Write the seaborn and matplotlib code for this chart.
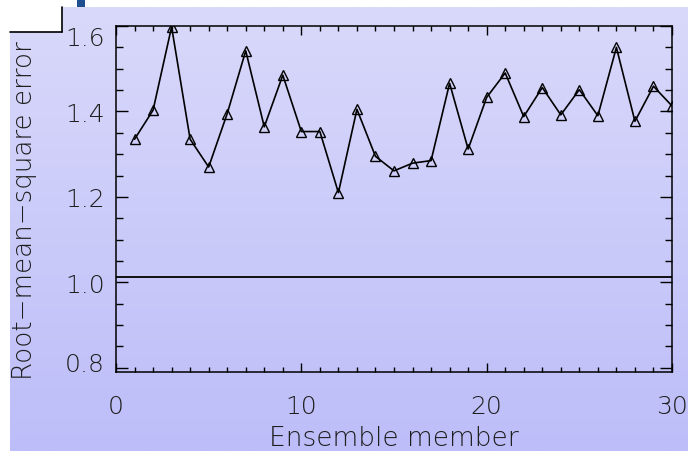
import numpy as np
import pandas as pd
import matplotlib
matplotlib.use("Agg")
import matplotlib.pyplot as plt
import matplotlib.transforms as mtransforms
from matplotlib.patches import Rectangle
from matplotlib.lines import Line2D
from matplotlib.ticker import MultipleLocator
import seaborn as sns

# ---- data ----
members = list(range(1, 31))
rmse = [1.335, 1.403, 1.598, 1.335, 1.270, 1.395, 1.542, 1.364, 1.485, 1.353,
        1.353, 1.210, 1.405, 1.295, 1.261, 1.279, 1.285, 1.466, 1.312, 1.433,
        1.490, 1.388, 1.456, 1.392, 1.451, 1.390, 1.550, 1.377, 1.459, 1.413]
reference_level = 1.012
x_ticks = [0, 10, 20, 30]
y_ticks = [0.8, 1.0, 1.2, 1.4, 1.6]
x_label = "Ensemble member"
y_label = "Root\u2212mean\u2212square error"

df = pd.DataFrame({"member": members, "rmse": rmse})

sns.set_theme(style="ticks")
plt.rcParams["font.family"] = ["DejaVu Sans"]
plt.rcParams["font.weight"] = "light"

W, H = 688, 452
fig = plt.figure(figsize=(W / 100, H / 100), dpi=100)
fig.patch.set_facecolor("white")

# gradient background (lavender), leaving white strip at top and left
bg = fig.add_axes([10 / W, 0, 1 - 10 / W, 1 - 8 / H], zorder=0)
grad = np.linspace(0, 1, 256).reshape(-1, 1)
top_c = np.array([217, 217, 251]) / 255
bot_c = np.array([189, 189, 249]) / 255
img = top_c[None, None, :] * (1 - grad[:, :, None]) + bot_c[None, None, :] * grad[:, :, None]
bg.imshow(img, aspect="auto", extent=[0, 1, 0, 1], origin="upper")
bg.set_axis_off()

# white box in the top-left corner with black edges
fig.patches.append(Rectangle((10 / W, 1 - 33 / H), 52 / W, 25 / H, transform=fig.transFigure,
                             facecolor="white", edgecolor="none", zorder=1))
fig.lines.append(Line2D([10 / W, 62 / W], [1 - 33 / H, 1 - 33 / H], transform=fig.transFigure,
                        color="black", lw=1.2, zorder=2))
fig.lines.append(Line2D([62 / W, 62 / W], [1 - 8 / H, 1 - 33 / H], transform=fig.transFigure,
                        color="black", lw=1.2, zorder=2))
# small blue block in the top strip
fig.patches.append(Rectangle((77 / W, 1 - 7.5 / H), 8 / W, 7.5 / H, transform=fig.transFigure,
                             facecolor="#1f4f8f", edgecolor="none", zorder=1))

# main axes
left, right, top, bottom = 116, 672, 27, 372.7
ax = fig.add_axes([left / W, 1 - bottom / H, (right - left) / W, (bottom - top) / H], zorder=3)
ax.patch.set_alpha(0)

sns.lineplot(data=df, x="member", y="rmse", ax=ax, color="black", lw=1.2,
             marker="^", markersize=7.5, markerfacecolor="none",
             markeredgecolor="black", markeredgewidth=1.0)
ax.axhline(reference_level, color="black", lw=1.3)

ax.set_xlim(0, 30)
ax.set_ylim(0.791, 1.6)
ax.set_xticks(x_ticks)
ax.set_yticks(y_ticks)
ax.xaxis.set_minor_locator(MultipleLocator(1))
ax.yaxis.set_minor_locator(MultipleLocator(0.05))
ax.set_xticklabels([str(t) for t in x_ticks])
ax.set_yticklabels([f"{t:.1f}" for t in y_ticks])
ax.set_xlabel("")
ax.set_ylabel("")

for s in ax.spines.values():
    s.set_visible(True)
    s.set_color("black")
    s.set_linewidth(1.1)

tick_color = "#1e1e1e"
ax.tick_params(axis="x", which="major", direction="in", length=6.5, width=1.0,
               top=True, bottom=True, pad=16, labelsize=18, labelcolor=tick_color, color="black")
ax.tick_params(axis="x", which="minor", direction="in", length=3.6, width=1.0,
               top=True, bottom=True, color="black")
ax.tick_params(axis="y", which="major", direction="in", length=8.6, width=1.0,
               left=True, right=True, pad=8, labelsize=18, labelcolor=tick_color, color="black")
ax.tick_params(axis="y", which="minor", direction="in", length=5.0, width=1.0,
               left=True, right=True, color="black")

# nudge the end y labels inward like the reference
labels = ax.get_yticklabels()
labels[0].set_transform(labels[0].get_transform() +
                        mtransforms.ScaledTranslation(0, 6 / 100, fig.dpi_scale_trans))
labels[-1].set_transform(labels[-1].get_transform() +
                         mtransforms.ScaledTranslation(0, -10 / 100, fig.dpi_scale_trans))

fig.text((left + right) / 2 / W, 1 - 439 / H, x_label, ha="center", va="center",
         fontsize=19, color=tick_color, zorder=4)
fig.text(25 / W, 1 - 211 / H, y_label, ha="center", va="center", rotation=90,
         fontsize=18.8, color=tick_color, zorder=4)

fig.savefig("out.png", dpi=100)
